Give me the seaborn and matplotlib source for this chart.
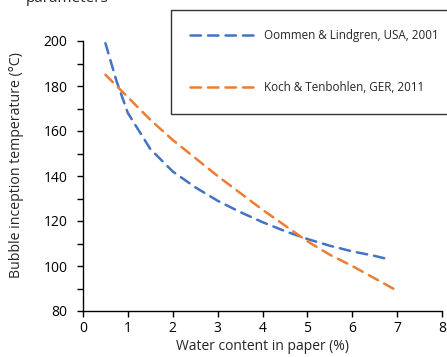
import matplotlib
matplotlib.use("Agg")
import matplotlib.pyplot as plt
import seaborn as sns
import pandas as pd
from matplotlib.ticker import MultipleLocator

# Data
oommen_x = [0.5, 0.75, 1.0, 1.5, 2.0, 2.5, 3.0, 3.5, 4.0, 4.5, 5.0, 5.5, 6.0, 6.5, 6.8]
oommen_y = [199, 182, 168, 152, 142, 135, 129, 124, 119.5, 115.5, 112, 109, 106.5, 104.5, 103]
koch_x = [0.5, 1.0, 1.5, 2.0, 2.5, 3.0, 3.5, 4.0, 4.5, 5.0, 5.5, 6.0, 6.5, 7.0]
koch_y = [185, 175, 165, 156, 148, 140, 132.5, 125, 118, 111, 105, 100, 94.5, 89]
labels = ["Oommen & Lindgren, USA, 2001", "Koch & Tenbohlen, GER, 2011"]
x_label = "Water content in paper (%)"
y_label = "Bubble inception temperature (°C)"
top_text = "parameters"

df = pd.concat([
    pd.DataFrame({"x": oommen_x, "y": oommen_y, "series": labels[0]}),
    pd.DataFrame({"x": koch_x, "y": koch_y, "series": labels[1]}),
])

sns.set_style("ticks")
plt.rcParams["font.family"] = ["Open Sans", "DejaVu Sans"]

W, H = 447, 357
fig = plt.figure(figsize=(W / 100, H / 100), dpi=100)
ax = fig.add_axes([83 / W, 1 - 311 / H, (442 - 83) / W, (311 - 41) / H])

palette = {labels[0]: "#4472C4", labels[1]: "#ED7D31"}
sns.lineplot(data=df, x="x", y="y", hue="series", palette=palette, ax=ax,
             sort=False, linewidth=1.8, estimator=None)
for line in ax.get_lines():
    line.set_dashes([4.2, 2.8])
    line.set_dash_capstyle("round")

ax.set_xlim(0, 8)
ax.set_ylim(80, 200)
ax.xaxis.set_major_locator(MultipleLocator(1))
ax.yaxis.set_major_locator(MultipleLocator(20))
ax.yaxis.set_minor_locator(MultipleLocator(10))
ax.tick_params(axis="x", which="major", length=4, width=1, color="black",
               labelsize=10, pad=3, labelcolor="black")
ax.tick_params(axis="y", which="major", length=4, width=1, color="black",
               labelsize=10, pad=7, labelcolor="black")
ax.tick_params(axis="y", which="minor", length=4, width=1, color="black")
for s in ["top", "right"]:
    ax.spines[s].set_visible(False)
for s in ["left", "bottom"]:
    ax.spines[s].set_color("black")
    ax.spines[s].set_linewidth(1)

ax.set_xlabel(x_label, fontsize=10, labelpad=2)
ax.set_ylabel("")
fig.text(17 / W, 1 - 165 / H, y_label, fontsize=10.2, rotation=90,
         ha="center", va="center")

leg = ax.legend(loc="upper left", bbox_to_anchor=(171 / W, 1 - 10 / H),
                bbox_transform=fig.transFigure, borderaxespad=0,
                fontsize=8.4, handlelength=5.75, handletextpad=0.6,
                labelspacing=3.36, borderpad=1.65, fancybox=False,
                frameon=True, title=None)
leg.get_frame().set_edgecolor("black")
leg.get_frame().set_linewidth(1)
for h in leg.get_lines():
    h.set_dashes([4.2, 2.8])

fig.text(26 / W, 1 - 2.5 / H, top_text, fontsize=11, va="baseline", ha="left")

fig.savefig("out.png", dpi=100)
